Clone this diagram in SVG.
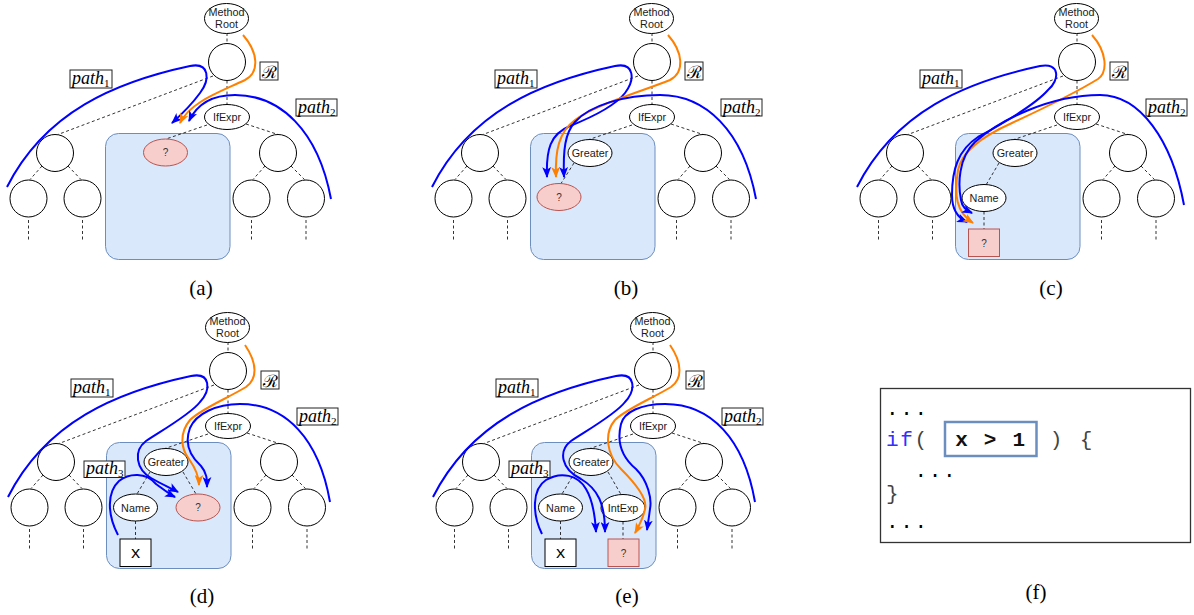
<svg xmlns="http://www.w3.org/2000/svg" width="1194" height="615" viewBox="0 0 1194 615">
<style>
.bg{fill:#ffffff}
.n ellipse,.n circle,.n rect{fill:#ffffff;stroke:#000000;stroke-width:1}
.n .pk{fill:#f8cecc;stroke:#b85450}
.ctx{fill:#dae8fc;stroke:#6c8ebf;stroke-width:1}
.tree-edges line{stroke:#000000;stroke-width:0.8;stroke-dasharray:3 2.5}
.t{font-family:"Liberation Sans",Arial,sans-serif;font-size:10.8px;text-anchor:middle;fill:#1a1a1a}
.q{font-family:"Liberation Sans",Arial,sans-serif;font-size:10px;text-anchor:middle;fill:#333333}
.xv{font-family:"Liberation Mono","Courier New",monospace;font-size:17px;text-anchor:middle;fill:#000000}
.bl{fill:none;stroke:#0000ff;stroke-width:2;marker-end:url(#ahb)}
.or{fill:none;stroke:#ff8000;stroke-width:2;marker-end:url(#aho)}
.lb{fill:#ffffff;stroke:#222222;stroke-width:1}
.m{font-family:"Liberation Serif","Times New Roman",serif;font-style:italic;font-size:18px;fill:#000000}
.sub{font-style:normal;font-size:11px}
.cr{font-family:"DejaVu Serif",serif;font-size:17px;text-anchor:middle;fill:#000000}
.cap{font-family:"Liberation Serif","Times New Roman",serif;font-size:21px;text-anchor:middle;fill:#000000}
.code{font-family:"Liberation Mono","Courier New",monospace;font-size:21px;letter-spacing:1.7px;fill:#444444}
</style>
<defs>
<marker id="ahb" viewBox="0 0 10 8" refX="9" refY="4" markerWidth="11" markerHeight="9" markerUnits="userSpaceOnUse" orient="auto"><path d="M0,0 L10,4 L0,8 L2.5,4 z" fill="#0000ff"/></marker>
<marker id="aho" viewBox="0 0 10 8" refX="9" refY="4" markerWidth="11" markerHeight="9" markerUnits="userSpaceOnUse" orient="auto"><path d="M0,0 L10,4 L0,8 L2.5,4 z" fill="#ff8000"/></marker>
</defs>
<rect class="bg" x="0" y="0" width="1194" height="615"/>

<!-- ===== Panel (a) ===== -->
<g id="panel-a">
 <g id="a-ctx"><rect class="ctx" x="105.5" y="133.5" width="124.5" height="126" rx="13"/></g>
 <g id="a-edges" class="tree-edges">
  <line x1="227" y1="33" x2="227" y2="43.5"/>
  <line x1="227" y1="80.5" x2="227" y2="104.5"/>
  <line x1="213" y1="76" x2="58" y2="134.5"/>
  <line x1="246" y1="124" x2="278" y2="134.5"/>
  <line x1="42" y1="166" x2="30" y2="179.5"/>
  <line x1="68" y1="166" x2="81" y2="179.5"/>
  <line x1="265" y1="166" x2="253" y2="179.5"/>
  <line x1="291" y1="166" x2="304.5" y2="179.5"/>
  <line x1="28.5" y1="220" x2="28.5" y2="240"/>
  <line x1="82.5" y1="220" x2="82.5" y2="240"/>
  <line x1="251.5" y1="220" x2="251.5" y2="240"/>
  <line x1="306" y1="220" x2="306" y2="240"/>
  <line x1="207" y1="125" x2="166" y2="139"/>
 </g>
 <g id="a-root" class="n"><ellipse cx="226.5" cy="18.5" rx="22" ry="15"/><text class="t" x="226.5" y="15.5">Method</text><text class="t" x="226.5" y="27.5">Root</text></g>
 <g id="a-n1" class="n"><circle cx="227" cy="62" r="18.5"/></g>
 <g id="a-ifexpr" class="n"><ellipse cx="227" cy="117" rx="22.5" ry="12.5"/><text class="t" x="227" y="121">IfExpr</text></g>
 <g id="a-l" class="n"><circle cx="55" cy="153" r="18.5"/></g>
 <g id="a-r" class="n"><circle cx="278" cy="153" r="18.5"/></g>
 <g id="a-ll" class="n"><circle cx="28.5" cy="198.5" r="18.5"/></g>
 <g id="a-lr" class="n"><circle cx="82.5" cy="198.5" r="18.5"/></g>
 <g id="a-rl" class="n"><circle cx="251.5" cy="198.5" r="18.5"/></g>
 <g id="a-rr" class="n"><circle cx="306" cy="198.5" r="18.5"/></g>
 <g id="a-hole" class="n"><ellipse class="pk" cx="165.5" cy="152.5" rx="22" ry="13.5"/><text class="q" x="165.5" y="156">?</text></g>
 <g id="a-paths">
  <path class="bl" d="M7,187 C45,112 115,82 190,66 C210,62 210,80 200,93 C192,104 182,114 172,123"/>
  <path class="or" d="M243,35 C258,52 260,72 245,80 C220,92 190,102 180,123"/>
  <path class="bl" d="M331,199 C318,130 280,95 235,95 C212,95 197,104 189,121"/>
 </g>
 <g id="a-lab-p1"><rect class="lb" x="70" y="70" width="42" height="18"/><text class="m" x="72" y="83.5">path<tspan class="sub" dy="3.5">1</tspan></text></g>
 <g id="a-lab-r"><rect class="lb" x="260" y="62" width="18" height="18"/><text class="cr" x="269" y="77.5">ℛ</text></g>
 <g id="a-lab-p2"><rect class="lb" x="296" y="99" width="41" height="17"/><text class="m" x="298" y="112.5">path<tspan class="sub" dy="3.5">2</tspan></text></g>
 <text class="cap" x="201" y="295">(a)</text>
</g>

<!-- ===== Panel (b) ===== -->
<g id="panel-b" transform="translate(425,0)">
 <g id="b-ctx"><rect class="ctx" x="105.5" y="133.5" width="124.5" height="126" rx="13"/></g>
 <g id="b-edges" class="tree-edges">
  <line x1="227" y1="33" x2="227" y2="43.5"/>
  <line x1="227" y1="80.5" x2="227" y2="104.5"/>
  <line x1="213" y1="76" x2="58" y2="134.5"/>
  <line x1="246" y1="124" x2="278" y2="134.5"/>
  <line x1="42" y1="166" x2="30" y2="179.5"/>
  <line x1="68" y1="166" x2="81" y2="179.5"/>
  <line x1="265" y1="166" x2="253" y2="179.5"/>
  <line x1="291" y1="166" x2="304.5" y2="179.5"/>
  <line x1="28.5" y1="220" x2="28.5" y2="240"/>
  <line x1="82.5" y1="220" x2="82.5" y2="240"/>
  <line x1="251.5" y1="220" x2="251.5" y2="240"/>
  <line x1="306" y1="220" x2="306" y2="240"/>
  <line x1="207" y1="125" x2="164" y2="139.5"/>
  <line x1="149" y1="163" x2="136" y2="183.5"/>
 </g>
 <g id="b-root" class="n"><ellipse cx="226.5" cy="18.5" rx="22" ry="15"/><text class="t" x="226.5" y="15.5">Method</text><text class="t" x="226.5" y="27.5">Root</text></g>
 <g id="b-n1" class="n"><circle cx="227" cy="62" r="18.5"/></g>
 <g id="b-ifexpr" class="n"><ellipse cx="227" cy="117" rx="22.5" ry="12.5"/><text class="t" x="227" y="121">IfExpr</text></g>
 <g id="b-l" class="n"><circle cx="55" cy="153" r="18.5"/></g>
 <g id="b-r" class="n"><circle cx="278" cy="153" r="18.5"/></g>
 <g id="b-ll" class="n"><circle cx="28.5" cy="198.5" r="18.5"/></g>
 <g id="b-lr" class="n"><circle cx="82.5" cy="198.5" r="18.5"/></g>
 <g id="b-rl" class="n"><circle cx="251.5" cy="198.5" r="18.5"/></g>
 <g id="b-rr" class="n"><circle cx="306" cy="198.5" r="18.5"/></g>
 <g id="b-greater" class="n"><ellipse cx="165" cy="153" rx="22" ry="13.5"/><text class="t" x="165" y="157">Greater</text></g>
 <g id="b-hole" class="n"><ellipse class="pk" cx="134" cy="197" rx="22" ry="13.5"/><text class="q" x="134" y="200.5">?</text></g>
 <g id="b-paths">
  <path class="bl" d="M7,187 C45,112 115,82 190,66 C210,62 210,80 200,93 C190,106 170,116 145,126 C125,134 121,150 122,177"/>
  <path class="or" d="M243,35 C258,52 260,72 245,80 C215,92 170,105 150,120 C134,132 130,150 131,177"/>
  <path class="bl" d="M331,199 C318,130 280,95 235,95 C200,95 165,105 150,122 C140,133 138,150 139,177"/>
 </g>
 <g id="b-lab-p1"><rect class="lb" x="70" y="70" width="42" height="18"/><text class="m" x="72" y="83.5">path<tspan class="sub" dy="3.5">1</tspan></text></g>
 <g id="b-lab-r"><rect class="lb" x="260" y="62" width="18" height="18"/><text class="cr" x="269" y="77.5">ℛ</text></g>
 <g id="b-lab-p2"><rect class="lb" x="296" y="99" width="41" height="17"/><text class="m" x="298" y="112.5">path<tspan class="sub" dy="3.5">2</tspan></text></g>
 <text class="cap" x="201" y="295">(b)</text>
</g>

<!-- ===== Panel (c) ===== -->
<g id="panel-c" transform="translate(850,0)">
 <g id="c-ctx"><rect class="ctx" x="105.5" y="133.5" width="124.5" height="126" rx="13"/></g>
 <g id="c-edges" class="tree-edges">
  <line x1="227" y1="33" x2="227" y2="43.5"/>
  <line x1="227" y1="80.5" x2="227" y2="104.5"/>
  <line x1="213" y1="76" x2="58" y2="134.5"/>
  <line x1="246" y1="124" x2="278" y2="134.5"/>
  <line x1="42" y1="166" x2="30" y2="179.5"/>
  <line x1="68" y1="166" x2="81" y2="179.5"/>
  <line x1="265" y1="166" x2="253" y2="179.5"/>
  <line x1="291" y1="166" x2="304.5" y2="179.5"/>
  <line x1="28.5" y1="220" x2="28.5" y2="240"/>
  <line x1="82.5" y1="220" x2="82.5" y2="240"/>
  <line x1="251.5" y1="220" x2="251.5" y2="240"/>
  <line x1="306" y1="220" x2="306" y2="240"/>
  <line x1="207" y1="125" x2="164" y2="139.5"/>
  <line x1="149" y1="163" x2="136" y2="185"/>
  <line x1="134" y1="211.5" x2="134" y2="229"/>
 </g>
 <g id="c-root" class="n"><ellipse cx="226.5" cy="18.5" rx="22" ry="15"/><text class="t" x="226.5" y="15.5">Method</text><text class="t" x="226.5" y="27.5">Root</text></g>
 <g id="c-n1" class="n"><circle cx="227" cy="62" r="18.5"/></g>
 <g id="c-ifexpr" class="n"><ellipse cx="227" cy="117" rx="22.5" ry="12.5"/><text class="t" x="227" y="121">IfExpr</text></g>
 <g id="c-l" class="n"><circle cx="55" cy="153" r="18.5"/></g>
 <g id="c-r" class="n"><circle cx="278" cy="153" r="18.5"/></g>
 <g id="c-ll" class="n"><circle cx="28.5" cy="198.5" r="18.5"/></g>
 <g id="c-lr" class="n"><circle cx="82.5" cy="198.5" r="18.5"/></g>
 <g id="c-rl" class="n"><circle cx="251.5" cy="198.5" r="18.5"/></g>
 <g id="c-rr" class="n"><circle cx="306" cy="198.5" r="18.5"/></g>
 <g id="c-greater" class="n"><ellipse cx="165" cy="153" rx="22" ry="13.5"/><text class="t" x="165" y="157">Greater</text></g>
 <g id="c-name" class="n"><ellipse cx="134" cy="198" rx="22" ry="13.5"/><text class="t" x="134" y="202">Name</text></g>
 <g id="c-hole" class="n"><rect class="pk" x="118.5" y="229" width="31" height="27.5"/><text class="q" x="134" y="246.5">?</text></g>
 <g id="c-paths">
  <path class="bl" d="M7,187 C45,112 115,82 190,66 C210,62 210,80 198,90 C185,105 150,125 128,137 C108,150 102,170 102,195 C102,210 108,218 117,222"/>
  <path class="or" d="M242,35 C257,52 258,72 248,79 C230,90 190,110 162,123 C135,135 112,150 108,170 C104,195 106,212 123,223"/>
  <path class="bl" d="M334,205 C322,140 290,95 250,95 C200,95 150,120 125,142 C108,158 108,185 111,200 C112,207 116,210 122,213"/>
 </g>
 <g id="c-lab-p1"><rect class="lb" x="70" y="70" width="42" height="18"/><text class="m" x="72" y="83.5">path<tspan class="sub" dy="3.5">1</tspan></text></g>
 <g id="c-lab-r"><rect class="lb" x="260" y="62" width="18" height="18"/><text class="cr" x="269" y="77.5">ℛ</text></g>
 <g id="c-lab-p2"><rect class="lb" x="296" y="99" width="41" height="17"/><text class="m" x="298" y="112.5">path<tspan class="sub" dy="3.5">2</tspan></text></g>
 <text class="cap" x="201" y="295">(c)</text>
</g>

<!-- ===== Panel (d) ===== -->
<g id="panel-d" transform="translate(1,309)">
 <g id="d-ctx"><rect class="ctx" x="105.5" y="133.5" width="124.5" height="126" rx="13"/></g>
 <g id="d-edges" class="tree-edges">
  <line x1="227" y1="33" x2="227" y2="43.5"/>
  <line x1="227" y1="80.5" x2="227" y2="104.5"/>
  <line x1="213" y1="76" x2="58" y2="134.5"/>
  <line x1="246" y1="124" x2="278" y2="134.5"/>
  <line x1="42" y1="166" x2="30" y2="179.5"/>
  <line x1="68" y1="166" x2="81" y2="179.5"/>
  <line x1="265" y1="166" x2="253" y2="179.5"/>
  <line x1="291" y1="166" x2="304.5" y2="179.5"/>
  <line x1="28.5" y1="220" x2="28.5" y2="240"/>
  <line x1="82.5" y1="220" x2="82.5" y2="240"/>
  <line x1="251.5" y1="220" x2="251.5" y2="240"/>
  <line x1="306" y1="220" x2="306" y2="240"/>
  <line x1="207" y1="125" x2="164" y2="139.5"/>
  <line x1="149" y1="163" x2="136" y2="185"/>
  <line x1="182" y1="163" x2="195" y2="185"/>
  <line x1="134.5" y1="212" x2="134.5" y2="230"/>
 </g>
 <g id="d-root" class="n"><ellipse cx="226.5" cy="18.5" rx="22" ry="15"/><text class="t" x="226.5" y="15.5">Method</text><text class="t" x="226.5" y="27.5">Root</text></g>
 <g id="d-n1" class="n"><circle cx="227" cy="62" r="18.5"/></g>
 <g id="d-ifexpr" class="n"><ellipse cx="227" cy="117" rx="22.5" ry="12.5"/><text class="t" x="227" y="121">IfExpr</text></g>
 <g id="d-l" class="n"><circle cx="55" cy="153" r="18.5"/></g>
 <g id="d-r" class="n"><circle cx="278" cy="153" r="18.5"/></g>
 <g id="d-ll" class="n"><circle cx="28.5" cy="198.5" r="18.5"/></g>
 <g id="d-lr" class="n"><circle cx="82.5" cy="198.5" r="18.5"/></g>
 <g id="d-rl" class="n"><circle cx="251.5" cy="198.5" r="18.5"/></g>
 <g id="d-rr" class="n"><circle cx="306" cy="198.5" r="18.5"/></g>
 <g id="d-greater" class="n"><ellipse cx="165" cy="153" rx="22" ry="13.5"/><text class="t" x="165" y="157">Greater</text></g>
 <g id="d-name" class="n"><ellipse cx="134.5" cy="198.5" rx="22" ry="13.5"/><text class="t" x="134.5" y="202.5">Name</text></g>
 <g id="d-hole" class="n"><ellipse class="pk" cx="197" cy="198.5" rx="22" ry="13.5"/><text class="q" x="197" y="202">?</text></g>
 <g id="d-x" class="n"><rect x="119" y="230" width="31" height="27.5"/><text class="xv" x="134.5" y="248.5">x</text></g>
 <g id="d-paths">
  <path class="bl" d="M7,188 C45,113 115,83 190,67 C210,63 210,81 199,93 C190,105 160,122 145,132 C132,142 135,160 150,169 C160,175 170,179 177,183"/>
  <path class="or" d="M244,36 C257,55 256,70 245,78 C225,90 200,100 189,111 C178,124 180,140 188,150 C195,160 198,168 198,176"/>
  <path class="bl" d="M329,193 C318,130 285,95 239,95 C215,95 195,105 189,119 C183,135 190,148 200,157 C206,164 206,170 206,178"/>
  <path class="bl" d="M117,226 C106,205 106,183 118,172 C128,164 145,163 155,175 C162,180 168,185 174,188"/>
 </g>
 <g id="d-lab-p1"><rect class="lb" x="70" y="70" width="42" height="18"/><text class="m" x="72" y="83.5">path<tspan class="sub" dy="3.5">1</tspan></text></g>
 <g id="d-lab-r"><rect class="lb" x="260" y="62" width="18" height="18"/><text class="cr" x="269" y="77.5">ℛ</text></g>
 <g id="d-lab-p2"><rect class="lb" x="296" y="99" width="41" height="17"/><text class="m" x="298" y="112.5">path<tspan class="sub" dy="3.5">2</tspan></text></g>
 <g id="d-lab-p3"><rect class="lb" x="83" y="152" width="41" height="16.5"/><text class="m" x="85" y="164.5">path<tspan class="sub" dy="3.5">3</tspan></text></g>
 <text class="cap" x="201" y="294">(d)</text>
</g>

<!-- ===== Panel (e) ===== -->
<g id="panel-e" transform="translate(426,309)">
 <g id="e-ctx"><rect class="ctx" x="105.5" y="133.5" width="124.5" height="126" rx="13"/></g>
 <g id="e-edges" class="tree-edges">
  <line x1="227" y1="33" x2="227" y2="43.5"/>
  <line x1="227" y1="80.5" x2="227" y2="104.5"/>
  <line x1="213" y1="76" x2="58" y2="134.5"/>
  <line x1="246" y1="124" x2="278" y2="134.5"/>
  <line x1="42" y1="166" x2="30" y2="179.5"/>
  <line x1="68" y1="166" x2="81" y2="179.5"/>
  <line x1="265" y1="166" x2="253" y2="179.5"/>
  <line x1="291" y1="166" x2="304.5" y2="179.5"/>
  <line x1="28.5" y1="220" x2="28.5" y2="240"/>
  <line x1="82.5" y1="220" x2="82.5" y2="240"/>
  <line x1="251.5" y1="220" x2="251.5" y2="240"/>
  <line x1="306" y1="220" x2="306" y2="240"/>
  <line x1="207" y1="125" x2="164" y2="139.5"/>
  <line x1="149" y1="163" x2="136" y2="185"/>
  <line x1="182" y1="163" x2="195" y2="185.5"/>
  <line x1="134.5" y1="212" x2="134.5" y2="230"/>
  <line x1="197" y1="212.5" x2="197" y2="230"/>
 </g>
 <g id="e-root" class="n"><ellipse cx="226.5" cy="18.5" rx="22" ry="15"/><text class="t" x="226.5" y="15.5">Method</text><text class="t" x="226.5" y="27.5">Root</text></g>
 <g id="e-n1" class="n"><circle cx="227" cy="62" r="18.5"/></g>
 <g id="e-ifexpr" class="n"><ellipse cx="227" cy="117" rx="22.5" ry="12.5"/><text class="t" x="227" y="121">IfExpr</text></g>
 <g id="e-l" class="n"><circle cx="55" cy="153" r="18.5"/></g>
 <g id="e-r" class="n"><circle cx="278" cy="153" r="18.5"/></g>
 <g id="e-ll" class="n"><circle cx="28.5" cy="198.5" r="18.5"/></g>
 <g id="e-lr" class="n"><circle cx="82.5" cy="198.5" r="18.5"/></g>
 <g id="e-rl" class="n"><circle cx="251.5" cy="198.5" r="18.5"/></g>
 <g id="e-rr" class="n"><circle cx="306" cy="198.5" r="18.5"/></g>
 <g id="e-greater" class="n"><ellipse cx="165" cy="153" rx="22" ry="13.5"/><text class="t" x="165" y="157">Greater</text></g>
 <g id="e-name" class="n"><ellipse cx="134.5" cy="198.5" rx="22" ry="13.5"/><text class="t" x="134.5" y="202.5">Name</text></g>
 <g id="e-intexp" class="n"><ellipse cx="197" cy="199" rx="22" ry="13.5"/><text class="t" x="197" y="203">IntExp</text></g>
 <g id="e-x" class="n"><rect x="119" y="230" width="31" height="27.5"/><text class="xv" x="134.5" y="248.5">x</text></g>
 <g id="e-hole" class="n"><rect class="pk" x="182" y="230" width="31" height="27.5"/><text class="q" x="197.5" y="247.5">?</text></g>
 <g id="e-paths">
  <path class="bl" d="M7,188 C45,113 115,83 190,67 C210,63 210,81 199,93 C190,105 160,122 145,132 C132,142 135,160 155,170 C172,180 179,195 179,223"/>
  <path class="or" d="M244,36 C257,55 256,70 245,78 C225,90 200,100 189,111 C178,124 180,145 195,160 C210,175 222,190 219,200 C217,210 213,217 209,224"/>
  <path class="bl" d="M329,193 C318,130 285,95 239,95 C215,95 198,103 195,115 C190,135 198,150 210,160 C222,172 226,190 224,200 C223,208 222,214 221,221"/>
  <path class="bl" d="M116,225 C106,205 106,180 120,171 C135,162 152,166 160,180 C166,190 169,205 170,223"/>
 </g>
 <g id="e-lab-p1"><rect class="lb" x="70" y="70" width="42" height="18"/><text class="m" x="72" y="83.5">path<tspan class="sub" dy="3.5">1</tspan></text></g>
 <g id="e-lab-r"><rect class="lb" x="260" y="62" width="18" height="18"/><text class="cr" x="269" y="77.5">ℛ</text></g>
 <g id="e-lab-p2"><rect class="lb" x="296" y="99" width="41" height="17"/><text class="m" x="298" y="112.5">path<tspan class="sub" dy="3.5">2</tspan></text></g>
 <g id="e-lab-p3"><rect class="lb" x="83" y="152" width="41" height="16.5"/><text class="m" x="85" y="164.5">path<tspan class="sub" dy="3.5">3</tspan></text></g>
 <text class="cap" x="201" y="294">(e)</text>
</g>

<!-- ===== Panel (f) ===== -->
<g id="panel-f">
 <rect x="880.5" y="388.5" width="310" height="154" fill="#ffffff" stroke="#333333" stroke-width="1.3"/>
 <g id="f-hl"><rect x="945" y="422" width="91.5" height="34" fill="#ffffff" stroke="#6c8ebf" stroke-width="2.5"/></g>
 <text class="code" x="886" y="415" style="fill:#000">...</text>
 <text class="code" x="886" y="446"><tspan style="fill:#3030ff">if</tspan>(</text>
 <text class="code" x="991" y="446" text-anchor="middle" font-weight="bold" style="fill:#111">x &gt; 1</text>
 <text class="code" x="1057" y="446" text-anchor="middle">)</text>
 <text class="code" x="1087" y="446" text-anchor="middle">{</text>
 <text class="code" x="914.5" y="477" style="fill:#000">...</text>
 <text class="code" x="886" y="500">}</text>
 <text class="code" x="886" y="528" style="fill:#000">...</text>
 <text class="cap" x="1036" y="599">(f)</text>
</g>
</svg>
